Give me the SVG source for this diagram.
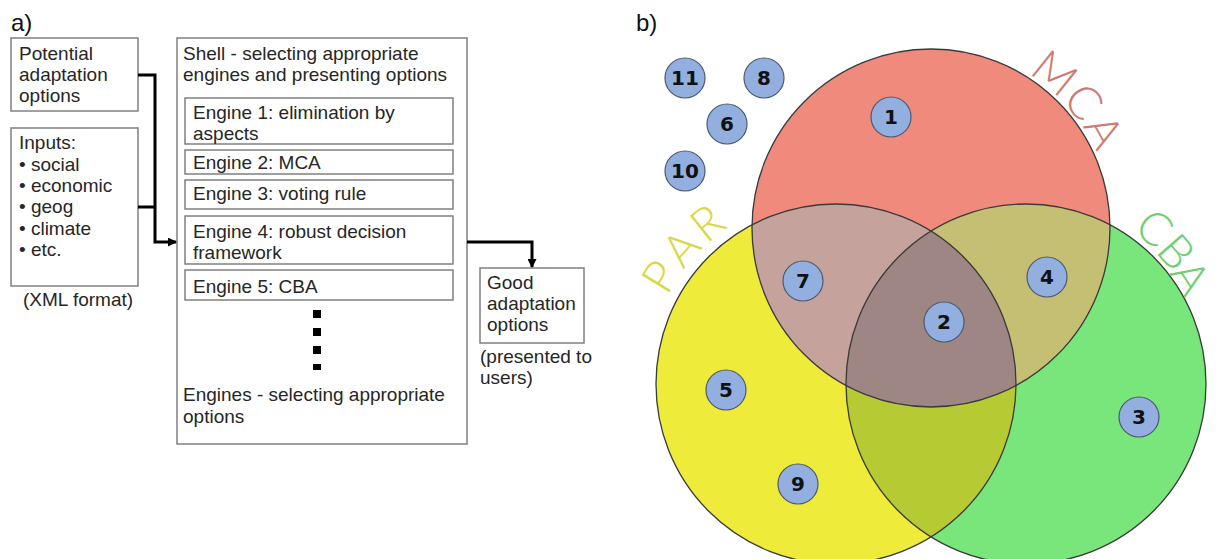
<svg xmlns="http://www.w3.org/2000/svg" width="1227" height="559" viewBox="0 0 1227 559">
<style>
.t{font-family:"Liberation Sans",Arial,sans-serif;font-size:19px;fill:#262626}
.pl{font-family:"Liberation Sans",Arial,sans-serif;font-size:24px;fill:#111}
.box{fill:#fff;stroke:#808080;stroke-width:1.5}
.con{fill:none;stroke:#000;stroke-width:3}
.ring{fill:none;stroke:#3a3a3a;stroke-width:1.3}
.nd circle{fill:#92afe0;stroke:#4d5a6e;stroke-width:1.2}
.nd text{font-family:"DejaVu Sans",sans-serif;font-weight:bold;font-size:20px;fill:#111;text-anchor:middle}
.lab{font-family:Lato,"DejaVu Sans",sans-serif;font-weight:300;font-size:46px;text-anchor:middle}
</style>
<defs>
<marker id="ah" markerWidth="9" markerHeight="9" refX="8" refY="4.5" orient="auto" markerUnits="userSpaceOnUse"><path d="M0,0 L9,4.5 L0,9 Z" fill="#000"/></marker>
<clipPath id="cpPAR"><circle cx="836" cy="384" r="180"/></clipPath>
<clipPath id="cpCBA"><circle cx="1026" cy="384" r="180"/></clipPath>
</defs>
<rect width="1227" height="559" fill="#fff"/>
<text class="pl" x="11" y="31">a)</text>
<text class="pl" x="636" y="31">b)</text>

<g id="potential">
<rect class="box" x="11" y="38" width="127" height="73"/>
<text class="t" x="19" y="60">Potential</text>
<text class="t" x="19" y="81">adaptation</text>
<text class="t" x="19" y="102">options</text>
</g>
<g id="inputs">
<rect class="box" x="11" y="128" width="127" height="158"/>
<text class="t" x="19" y="149">Inputs:</text>
<text class="t" x="19" y="170.5">• social</text>
<text class="t" x="19" y="192">• economic</text>
<text class="t" x="19" y="213">• geog</text>
<text class="t" x="19" y="234.5">• climate</text>
<text class="t" x="19" y="256">• etc.</text>
<text class="t" x="78" y="306" text-anchor="middle">(XML format)</text>
</g>
<g id="shell">
<rect class="box" x="177" y="38" width="290" height="406"/>
<text class="t" x="183" y="60">Shell - selecting appropriate</text>
<text class="t" x="183" y="81">engines and presenting options</text>
<text class="t" x="183" y="401">Engines - selecting appropriate</text>
<text class="t" x="183" y="423">options</text>
<g fill="#000">
<rect x="313" y="310" width="8" height="8"/>
<rect x="313" y="328" width="8" height="8"/>
<rect x="313" y="346" width="8" height="8"/>
<rect x="313" y="364" width="8" height="6"/>
</g>
</g>
<g id="engine1"><rect class="box" x="185" y="98" width="268" height="46"/>
<text class="t" x="193" y="119">Engine 1: elimination by</text><text class="t" x="193" y="140">aspects</text></g>
<g id="engine2"><rect class="box" x="185" y="150" width="268" height="24"/>
<text class="t" x="193" y="169">Engine 2: MCA</text></g>
<g id="engine3"><rect class="box" x="185" y="180" width="268" height="29"/>
<text class="t" x="193" y="200">Engine 3: voting rule</text></g>
<g id="engine4"><rect class="box" x="185" y="216" width="268" height="48"/>
<text class="t" x="193" y="238">Engine 4: robust decision</text><text class="t" x="193" y="259">framework</text></g>
<g id="engine5"><rect class="box" x="185" y="270" width="268" height="30"/>
<text class="t" x="193" y="293">Engine 5: CBA</text></g>
<g id="good">
<rect class="box" x="480" y="268" width="104" height="75"/>
<text class="t" x="487" y="289">Good</text>
<text class="t" x="487" y="310">adaptation</text>
<text class="t" x="487" y="331">options</text>
<text class="t" x="480" y="363">(presented to</text>
<text class="t" x="480" y="384">users)</text>
</g>
<g id="connectors">
<polyline class="con" points="138,75 155,75 155,242 176,242" marker-end="url(#ah)"/>
<line class="con" x1="138" y1="207" x2="155" y2="207"/>
<polyline class="con" points="467,242 532,242 532,267" marker-end="url(#ah)"/>
</g>

<g id="venn">
<circle cx="836" cy="384" r="180" fill="#eeeb3a"/>
<circle cx="1026" cy="384" r="180" fill="#78e67a"/>
<circle cx="931" cy="228" r="179" fill="#ef8a7d"/>
<circle cx="1026" cy="384" r="180" fill="#b6ca33" clip-path="url(#cpPAR)"/>
<circle cx="931" cy="228" r="179" fill="#c5a29c" clip-path="url(#cpPAR)"/>
<circle cx="931" cy="228" r="179" fill="#c4bf73" clip-path="url(#cpCBA)"/>
<g clip-path="url(#cpPAR)"><circle cx="931" cy="228" r="179" fill="#9d8683" clip-path="url(#cpCBA)"/></g>
<circle class="ring" cx="836" cy="384" r="180"/>
<circle class="ring" cx="1026" cy="384" r="180"/>
<circle class="ring" cx="931" cy="228" r="179"/>
</g>
<g id="label-MCA" class="lab" fill="#cd7b72">
<text transform="translate(1044.6,85.8) rotate(38.6)">M</text>
<text transform="translate(1071.3,112.1) rotate(50.4)">C</text>
<text transform="translate(1089.9,139.2) rotate(60.8)">A</text>
</g>
<g id="label-PAR" class="lab" fill="#d8d746">
<text transform="translate(674,284.8) rotate(-58.5)">P</text>
<text transform="translate(693.3,258.6) rotate(-48.7)">A</text>
<text transform="translate(717.4,235.6) rotate(-38.6)">R</text>
</g>
<g id="label-CBA" class="lab" fill="#6fd06f">
<text transform="translate(1144.3,240.4) rotate(39.5)">C</text>
<text transform="translate(1164.2,262.5) rotate(48.7)">B</text>
<text transform="translate(1177,285.9) rotate(57)">A</text>
</g>

<g id="n11" class="nd"><circle cx="685" cy="78" r="20"/><text x="685" y="85">11</text></g>
<g id="n8" class="nd"><circle cx="764" cy="78" r="20"/><text x="764" y="85">8</text></g>
<g id="n6" class="nd"><circle cx="727" cy="124" r="20"/><text x="727" y="131">6</text></g>
<g id="n10" class="nd"><circle cx="685" cy="171" r="20"/><text x="685" y="178">10</text></g>
<g id="n1" class="nd"><circle cx="891" cy="117" r="20"/><text x="891" y="124">1</text></g>
<g id="n7" class="nd"><circle cx="803" cy="281" r="20"/><text x="803" y="288">7</text></g>
<g id="n4" class="nd"><circle cx="1047" cy="277" r="20"/><text x="1047" y="284">4</text></g>
<g id="n2" class="nd"><circle cx="944" cy="322" r="20"/><text x="944" y="329">2</text></g>
<g id="n5" class="nd"><circle cx="726" cy="390" r="20"/><text x="726" y="397">5</text></g>
<g id="n9" class="nd"><circle cx="798" cy="484" r="20"/><text x="798" y="491">9</text></g>
<g id="n3" class="nd"><circle cx="1139" cy="417" r="20"/><text x="1139" y="424">3</text></g>
</svg>
